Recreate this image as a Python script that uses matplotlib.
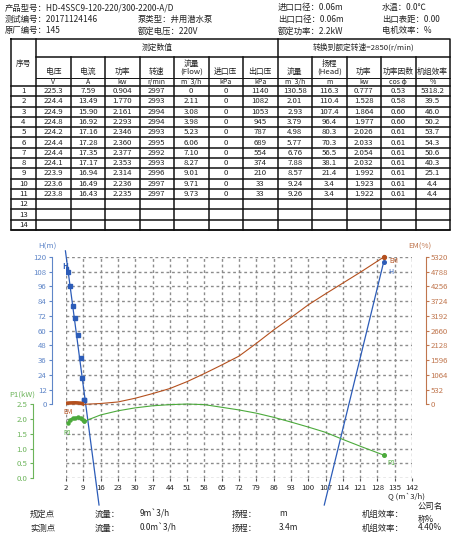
import numpy as np
import matplotlib
matplotlib.use('Agg')
import matplotlib.pyplot as plt

plt.rcParams['font.family'] = ['Noto Sans CJK SC', 'DejaVu Sans']
plt.rcParams['axes.unicode_minus'] = False

# ---- header info ----
info_col1 = ['产品型号：HD-4SSC9-120-220/300-2200-A/D', '测试编号：20171124146', '原厂编号：145']
info_col2 = ['', '泵类型：井用潜水泵', '额定电压：220V']
info_col3 = ['进口口径：0.06m', '出口口径：0.06m', '额定功率：2.2kW']
info_col4 = ['水温：0.0℃', '出口表距：0.00', '电机效率：%']

# ---- table data ----
row_no = list(range(1, 15))
volt = [225.3, 224.4, 224.9, 224.8, 224.2, 224.4, 224.4, 224.1, 223.9, 223.6, 223.8]
amp = [7.59, 13.49, 15.90, 16.92, 17.16, 17.28, 17.35, 17.17, 16.94, 16.49, 16.43]
power_in = [0.904, 1.770, 2.161, 2.293, 2.346, 2.360, 2.377, 2.353, 2.314, 2.236, 2.235]
speed = [2997, 2993, 2994, 2994, 2993, 2995, 2992, 2993, 2996, 2997, 2997]
flow_meas = [0, 2.11, 3.08, 3.98, 5.23, 6.06, 7.10, 8.27, 9.01, 9.71, 9.73]
p_in = [0] * 11
p_out = [1140, 1082, 1053, 945, 787, 689, 554, 374, 210, 33, 33]
flow_q = [130.58, 2.01, 2.93, 3.79, 4.98, 5.77, 6.76, 7.88, 8.57, 9.24, 9.26]
head_h = [116.3, 110.4, 107.4, 96.4, 80.3, 70.3, 56.5, 38.1, 21.4, 3.4, 3.4]
power_p1 = [0.777, 1.528, 1.864, 1.977, 2.026, 2.033, 2.054, 2.032, 1.992, 1.923, 1.922]
cos_phi = [0.53, 0.58, 0.60, 0.60, 0.61, 0.61, 0.61, 0.61, 0.61, 0.61, 0.61]
eff_em = [5318.2, 39.5, 46.0, 50.2, 53.7, 54.3, 50.6, 40.3, 25.1, 4.4, 4.4]

col_labels = ['电压', '电流', '功率', '转速', '流量\n(Flow)', '进口压', '出口压',
              '流量', '扬程\n(Head)', '功率', '功率因数', '机组效率']
col_units = ['V', 'A', 'kw', 'r/min', 'm`3/h', 'kPa', 'kPa', 'm`3/h', 'm', 'kw', 'cos φ', '%']

# ---- curves ----
q_ticks = list(range(2, 143, 7))
h_ticks = list(range(0, 121, 12))
h_grid = list(range(-60, 121, 12))
p1_ticks = [0.0, 0.5, 1.0, 1.5, 2.0, 2.5]
em_ticks = list(range(0, 5321, 532))

h_tail_q = [130.58, 106.5]
h_tail_h = [116.3, -82]
em_fit_q = [9.26, 16, 23, 30, 37, 44, 51, 58, 65, 72, 79, 86, 93, 100, 107, 114, 121, 130.58]
em_fit_v = [0, 30, 85, 220, 387, 570, 820, 1112, 1420, 1741, 2200, 2684, 3130, 3591, 3990, 4377, 4764, 5318.2]
p1_fit_q = [9.26, 16, 23, 30, 37, 44, 51, 58, 65, 72, 79, 86, 93, 100, 107, 114, 121, 130.58]
p1_fit_v = [1.92, 2.14, 2.28, 2.38, 2.45, 2.49, 2.51, 2.49, 2.40, 2.31, 2.20, 2.06, 1.90, 1.73, 1.55, 1.31, 1.08, 0.777]

# ---- footer ----
foot_rows = [['规定点', '流量：', '9m`3/h', '扬程：', 'm', '机组效率：', '公司名\n称%'],
             ['实测点', '流量：', '0.0m`3/h', '扬程：', '3.4m', '机组效率：', '4.40%']]

W, HH = 465, 540
blue, brown, green = '#2c5cb8', '#b4501e', '#4caa3c'
blue_l, brown_l, green_l = '#5f86c8', '#c0764e', '#6cb45a'
txt = '#222222'
fs = 5.6

fig = plt.figure(figsize=(W / 100, HH / 100), dpi=100)
fig.patch.set_facecolor('white')

# ---- chart ----
px_l, px_r, px_t, px_b = 66, 412, 257, 478
rect = [px_l / W, 1 - px_b / HH, (px_r - px_l) / W, (px_b - px_t) / HH]
ax = fig.add_axes(rect)
ax.set_xlim(2, 142)
ax.set_ylim(-60, 120)
ax.set_xticks(q_ticks)
ax.set_yticks(h_ticks)

# dashed grid (thin lines vanish at this size, so keep them 1pt)
ax.vlines(q_ticks, -60, 120, colors='#8c8c8c', linestyles=[(0, (2, 2))], linewidths=1.0, zorder=1)
ax.hlines(h_grid, 2, 142, colors='#8c8c8c', linestyles=[(0, (2, 2))], linewidths=1.0, zorder=1)

ax.tick_params(axis='y', length=2.5, labelsize=fs, colors=blue_l, labelcolor=blue_l, pad=1.5)
ax.tick_params(axis='x', length=2, labelsize=fs, colors='#555555', labelcolor=txt, pad=2)
for s in ['top', 'right', 'bottom']:
    ax.spines[s].set_visible(False)
ax.spines['left'].set_position(('outward', 10))
ax.spines['left'].set_bounds(0, 120)
ax.spines['left'].set_color(blue_l)

ax_e = ax.twinx()
ax_e.set_ylim(-2660, 5320)
ax_e.set_yticks(em_ticks)
ax_e.tick_params(axis='y', length=2.5, labelsize=fs, colors=brown_l, labelcolor=brown_l, pad=1)
for s in ['top', 'left', 'bottom']:
    ax_e.spines[s].set_visible(False)
ax_e.spines['right'].set_position(('outward', 10))
ax_e.spines['right'].set_bounds(0, 5320)
ax_e.spines['right'].set_color(brown_l)

ax_p = fig.add_axes(rect, sharex=ax)
ax_p.patch.set_visible(False)
ax_p.set_ylim(0, 7.5)
ax_p.set_yticks(p1_ticks)
ax_p.set_yticklabels([f'{v:.1f}' for v in p1_ticks])
ax_p.xaxis.set_visible(False)
ax_p.tick_params(axis='y', length=2.5, labelsize=fs, colors=green_l, labelcolor=green_l, pad=1.5)
for s in ['top', 'right', 'bottom']:
    ax_p.spines[s].set_visible(False)
ax_p.spines['left'].set_position(('outward', 24))
ax_p.spines['left'].set_bounds(0, 2.5)
ax_p.spines['left'].set_color(green_l)

# head curve
fq = np.array(flow_q[1:])
fh = np.array(head_h[1:])
m, b = np.polyfit(fq, fh, 1)
q_line = np.array([(125 - b) / m, (-82 - b) / m])
ax.plot(q_line, m * q_line + b, color=blue, lw=0.9, clip_on=False, zorder=3)
ax.plot(h_tail_q, h_tail_h, color=blue, lw=0.9, clip_on=False, zorder=3)
ax.plot(fq, fh, 's', color=blue, ms=2.6, zorder=4)
ax.plot(flow_q[0], head_h[0], 'o', color=blue, ms=2.6, zorder=4, clip_on=False)

# efficiency curve
ax_e.plot(em_fit_q, em_fit_v, color=brown, lw=0.8, clip_on=False)
ax_e.plot(flow_q[1:], eff_em[1:], color=brown, lw=2.6, solid_capstyle='butt')
ax_e.plot(flow_q[0], eff_em[0], 'o', color=brown, ms=2.8, clip_on=False)

# power curve
ax_p.plot(p1_fit_q, p1_fit_v, color=green, lw=0.8)
ax_p.plot(flow_q[2:], power_p1[2:], color=green, lw=1.8, marker='o', ms=2.2)
ax_p.plot(flow_q[0], power_p1[0], 'o', color=green, ms=2.6)

ax.text(1.6, 112, 'H', color=blue, fontsize=5.5, ha='center', va='center', fontweight='bold')
ax.text(133.5, 107.5, 'H', color=blue, fontsize=5, ha='center', va='center')
ax_e.text(3.0, -260, 'EM', color=brown, fontsize=4.8, ha='center', va='center')
ax_e.text(134.5, 5180, 'EM', color=brown, fontsize=4.6, ha='center', va='center')
ax_p.text(2.5, 1.53, 'P1', color=green, fontsize=4.8, ha='center', va='center')
ax_p.text(133.5, 0.5, 'P1', color=green, fontsize=4.8, ha='center', va='center')

# ---- overlay for table, header, footer (pixel coords) ----
ov = fig.add_axes([0, 0, 1, 1])
ov.set_xlim(0, W)
ov.set_ylim(HH, 0)
ov.axis('off')

ov.text(47, 247, 'H(m)', color=blue_l, fontsize=fs, ha='center', va='center')
ov.text(420, 247, 'EM(%)', color=brown_l, fontsize=fs, ha='center', va='center')
ov.text(22, 395, 'P1(kW)', color=green_l, fontsize=fs, ha='center', va='center')
ov.text(406, 497, 'Q (m`3/h)', color=txt, fontsize=fs, ha='center', va='center')

hx = [5, 138, 278, 382]
for cx, col in zip(hx, [info_col1, info_col2, info_col3, info_col4]):
    for i, s in enumerate(col):
        ov.text(cx, 7.5 + i * 11.7, s, fontsize=6, color=txt, ha='left', va='center')

# table grid
xs = [11, 36] + [36 + 34.5 * k for k in range(1, 13)]
y_top, y_h1, y_lab, y_unit = 38.5, 57, 77.5, 86
row_h = (230 - y_unit) / 14
lw = 1.1
ov.plot([xs[0], xs[-1], xs[-1], xs[0], xs[0]], [y_top, y_top, 230, 230, y_top], color='#111', lw=lw)
ov.plot([xs[1], xs[-1]], [y_h1, y_h1], color='#111', lw=lw)
ov.plot([xs[1], xs[-1]], [y_lab, y_lab], color='#111', lw=0.7)
for k in range(15):
    yy = y_unit + k * row_h
    ov.plot([xs[0], xs[-1]], [yy, yy], color='#111', lw=lw)
for i, xx in enumerate(xs[1:-1], start=1):
    y0 = y_top if i in (1, 8) else y_h1
    ov.plot([xx, xx], [y0, 230], color='#111', lw=lw)

ov.text((xs[1] + xs[8]) / 2, 47.5, '测定数值', fontsize=fs, ha='center', va='center', color=txt)
ov.text((xs[8] + xs[-1]) / 2, 47.5, '转换到额定转速=2850(r/min)', fontsize=fs, ha='center', va='center', color=txt)
ov.text((xs[0] + xs[1]) / 2, 64, '序号', fontsize=fs, ha='center', va='center', color=txt)
for i, (lab, unit) in enumerate(zip(col_labels, col_units)):
    cx = (xs[i + 1] + xs[i + 2]) / 2
    ov.text(cx, 76, lab, fontsize=fs, ha='center', va='bottom', color=txt, linespacing=1.05)
    ov.text(cx, (y_lab + y_unit) / 2, unit, fontsize=5, ha='center', va='center', color=txt)

fmts = [lambda v: f'{v:.1f}', lambda v: f'{v:.2f}', lambda v: f'{v:.3f}', lambda v: f'{v:d}',
        lambda v: '0' if v == 0 else f'{v:.2f}', lambda v: f'{v:d}', lambda v: f'{v:d}',
        lambda v: f'{v:.2f}', lambda v: f'{v:.1f}', lambda v: f'{v:.3f}', lambda v: f'{v:.2f}',
        lambda v: f'{v:.1f}']
cols = [volt, amp, power_in, speed, flow_meas, p_in, p_out, flow_q, head_h, power_p1, cos_phi, eff_em]
for r in row_no:
    cy = y_unit + (r - 0.5) * row_h
    ov.text((xs[0] + xs[1]) / 2, cy, str(r), fontsize=fs, ha='center', va='center', color=txt)
    if r <= len(volt):
        for c, (vals, f) in enumerate(zip(cols, fmts)):
            cx = (xs[c + 1] + xs[c + 2]) / 2
            ov.text(cx, cy, f(vals[r - 1]), fontsize=fs, ha='center', va='center', color=txt)

# footer
fx = [30, 95, 140, 232, 279, 362, 418]
for ri, (row, fy) in enumerate(zip(foot_rows, [514, 528])):
    for cx, s in zip(fx, row):
        ov.text(cx, fy if '\n' not in s else 513, s, fontsize=6, ha='left', va='center', color=txt,
                linespacing=1.5)

fig.savefig('out.png', dpi=100)
